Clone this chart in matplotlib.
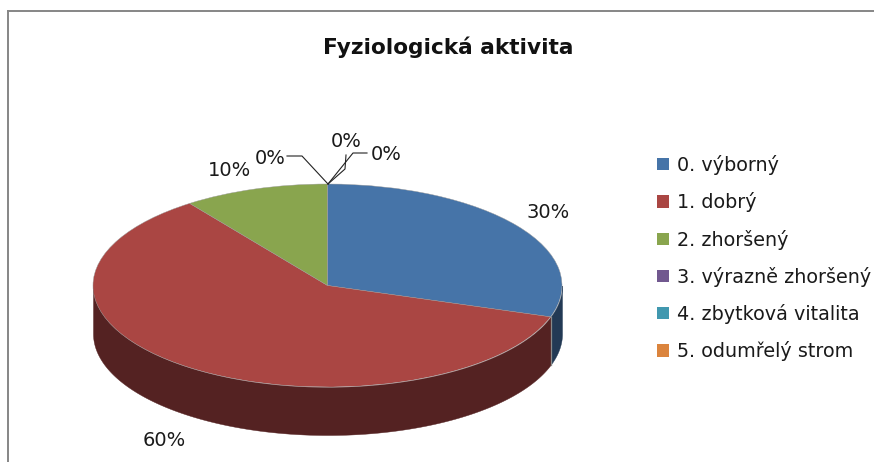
import numpy as np
import matplotlib
matplotlib.use("Agg")
import matplotlib.pyplot as plt
from matplotlib.lines import Line2D

W, H = 874, 462
categories = ["0. výborný", "1. dobrý", "2. zhoršený", "3. výrazně zhoršený",
              "4. zbytková vitalita", "5. odumřelý strom"]
values = [30, 60, 10, 0, 0, 0]
colors = ["#4674A8", "#AA4643", "#89A54E", "#71588F", "#4198AF", "#DB843D"]
side_colors = ["#233A55", "#542222", "#445327", "#382C47", "#204C57", "#6D421E"]
title = "Fyziologická aktivita"

CX, CY, RX, RY, DEPTH = 327.5, 285.5, 234.5, 101.5, 48

fig = plt.figure(figsize=(W / 100, H / 100), dpi=100)
ax = fig.add_axes([0, 0, 1, 1])
wedges, _ = ax.pie(values, colors=colors, startangle=90, counterclock=False,
                   radius=1, wedgeprops=dict(linewidth=0.3, edgecolor="#9a9a9a"))
ax.set_aspect("auto")
ax.set_xlim(-CX / RX, (W - CX) / RX)
ax.set_ylim(-(H - CY) / RY, CY / RY)
ax.axis("off")

# side walls of the extruded pie, derived from the slice angles
d = DEPTH / RY
start = 90.0
total = sum(values)
for v, sc in zip(values, side_colors):
    end = start - 360.0 * v / total
    a0, a1 = max(end, -180.0), min(start, 0.0)
    if a1 > a0:
        t = np.radians(np.linspace(a0, a1, 200))
        x = np.cos(t)
        y = np.sin(t)
        ax.fill_between(x, y, y - d, color=sc, linewidth=0.3, zorder=0.5)
    start = end

# seam between the blue and red walls
ang = np.radians(90 - 360.0 * values[0] / total)
ax.plot([np.cos(ang)] * 2, [np.sin(ang), np.sin(ang) - d], color="#8a8a8a", lw=0.9, zorder=0.8)


def fx(px):
    return px / W


def fy(py):
    return 1 - py / H


# chart frame (top and left only visible)
for xs, ys in (([8, W], [11, 11]), ([8, 8], [11, H])):
    fig.add_artist(Line2D([fx(a) for a in xs], [fy(b) for b in ys], color="#868686", lw=1.4))

fig.text(fx(448), fy(47), title, ha="center", va="center", fontsize=15.6,
         fontweight="bold", family="DejaVu Sans", color="#111111")

# data labels
label_text = [f"{v}%" for v in values]
label_pos = [(548, 213), (164, 440), (230, 170), (270, 158), (346, 142), (386, 155)]
for s, (px, py) in zip(label_text, label_pos):
    fig.text(fx(px), fy(py), s, ha="center", va="center", fontsize=14,
             family="DejaVu Sans", color="#1a1a1a")

# leader lines for the zero slices
leaders = [[(328, 184), (302, 156), (287, 156)],
           [(328, 184), (345, 169), (346, 155)],
           [(328, 184), (353, 153), (367, 153)]]
for pts in leaders:
    fig.add_artist(Line2D([fx(p[0]) for p in pts], [fy(p[1]) for p in pts],
                          color="#222222", lw=0.8))

leg = ax.legend(wedges, categories, loc="upper left",
                bbox_to_anchor=(fx(657), fy(155)), bbox_transform=fig.transFigure,
                frameon=False, handlelength=0.62, handleheight=0.62, handletextpad=0.42,
                labelspacing=0.9, borderpad=0, borderaxespad=0,
                prop=dict(family="DejaVu Sans", size=13.8))
for t in leg.get_texts():
    t.set_color("#1a1a1a")
for h in leg.legend_handles:
    h.set_linewidth(0)

fig.savefig("out.png", dpi=100)
